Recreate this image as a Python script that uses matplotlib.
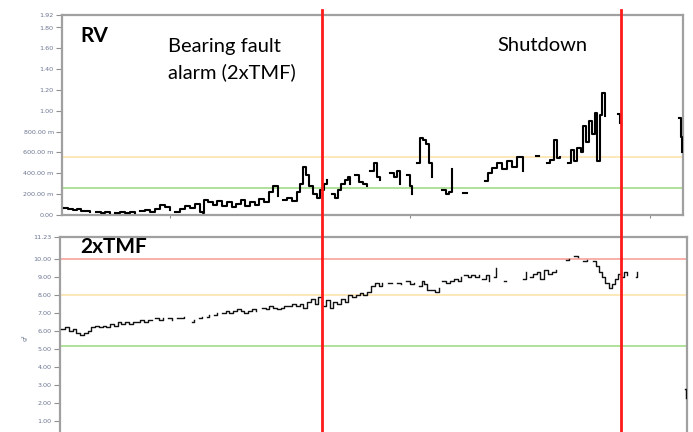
import numpy as np
import matplotlib
matplotlib.use("Agg")
import matplotlib.pyplot as plt
from matplotlib.lines import Line2D

nan = np.nan

# ---------------- data ----------------
rv_t = [0.3, 1, 1.7, 2.4, 3.1, 3.8, 4.5, nan, 5.5, 6.3, 7.0, 7.8, nan, 8.6, 9.4, 10.2, 11.0, 11.8, nan,
        12.6, 13.4, 14.2, 15.0, 15.8, 16.6, 17.4, nan, 18.2, 19.0, 19.8, 20.6, 21.4, 22.2, 22.7,
        22.8, 23.5, 24.3, 25.0, 25.8, 26.5, 27.3, 28.0, 28.8, 29.5, 30.3, 31.0, 31.8, 32.5, 33.3, 34.0, 34.8, nan,
        35.6, 36.3, 37.0, 37.8, 38.3, 38.8, 39.3, 39.8, 40.4, 41.0, 41.5,
        42.2, 42.7, nan, 43.5, 44.0, 44.5, 45.0, 45.5, 46.0, 46.4, nan, 47.2, 47.8, 48.4, 49.1, nan,
        49.6, 50.2, 50.7, 51.2, nan, 52.8, 53.4, 54.0, 54.4, nan, 55.6, 56.0, 56.4, nan,
        57.2, 57.6, 58.1, 58.6, 59.1, 59.6, nan, 61.2, 61.8, 62.3, 62.8, nan, 64.5, 65.2, nan,
        68.1, 68.6, 69.2, 70.0, 70.8, 71.6, 72.4, 73.2, 74.2, nan, 76.3, 76.8, nan,
        78.1, 78.6, 79.2, 79.7, 80.2, nan, 81.5, 82.0, 82.5, 83.0, 83.5, 83.9, 84.4, 84.9, 85.4, 85.8,
        86.2, 86.6, 87.0, 87.4, nan, 89.5, 89.8, nan, 99.4, 99.6, 99.8]
rv_v = [0.07, 0.06, 0.05, 0.06, 0.04, 0.04, 0.03, nan, 0.03, 0.02, 0.03, 0.02, nan, 0.02, 0.03, 0.02, 0.03, 0.02, nan,
        0.04, 0.05, 0.03, 0.06, 0.10, 0.08, 0.05, nan, 0.03, 0.06, 0.09, 0.07, 0.11, 0.03, 0.02,
        0.14, 0.12, 0.10, 0.13, 0.09, 0.12, 0.08, 0.11, 0.14, 0.09, 0.12, 0.10, 0.15, 0.12, 0.22, 0.28, 0.18, nan,
        0.14, 0.16, 0.13, 0.22, 0.30, 0.46, 0.38, 0.28, 0.20, 0.16, 0.24,
        0.30, 0.34, nan, 0.20, 0.16, 0.24, 0.30, 0.34, 0.36, 0.30, nan, 0.38, 0.32, 0.30, 0.28, nan,
        0.42, 0.50, 0.36, 0.34, nan, 0.40, 0.36, 0.42, 0.30, nan, 0.38, 0.28, 0.20, nan,
        0.50, 0.74, 0.72, 0.68, 0.50, 0.36, nan, 0.24, 0.20, 0.22, 0.44, nan, 0.21, 0.21, nan,
        0.33, 0.40, 0.45, 0.50, 0.44, 0.52, 0.46, 0.56, 0.42, nan, 0.57, 0.57, nan,
        0.50, 0.53, 0.72, 0.55, 0.56, nan, 0.50, 0.62, 0.52, 0.64, 0.60, 0.85, 0.70, 0.90, 0.78, 0.98,
        0.52, 0.96, 1.17, 0.95, nan, 0.97, 0.88, nan, 0.93, 0.75, 0.60]

tmf_t = [0.2, 0.8, 1.4, 2.0, 2.6, 3.2, 3.8, 4.4, 5.0, 5.6, 6.2, 6.8, 7.4, 8.0, 8.6, 9.2, 9.8, 10.4, 11.0, 11.6,
         12.2, 12.8, 13.4, 14.0, 14.6, nan, 15.2, 15.8, 16.4, nan, 17.2, 17.8, nan, 18.6, 19.2, 19.8, nan,
         21.0, 21.4, nan, 22.2, 22.6, nan, 23.4, 23.8, nan, 24.6, 25.0, nan,
         25.8, 26.4, 27.0, 27.6, 28.2, 28.8, 29.4, 30.0, 30.6, 31.2, nan,
         32.2, 32.8, 33.4, 34.0, 34.6, 35.2, 35.8, 36.4, 37.0, 37.6, 38.2, 38.8, 39.4, 40.0, 40.6, 41.2, 41.8,
         42.4, 43.0, 43.6, 44.2, 44.8, 45.4, 46.0, 46.6, 47.2, 47.8, 48.4, 49.0, 49.6, 50.2, 50.8, 51.4, nan,
         52.3, 52.9, nan, 53.8, 54.4, nan, 55.2, 55.8, 56.4, nan,
         57.2, 57.7, 58.1, 58.6, 59.2, 59.8, 60.4, nan, 61.0, 61.6, 62.2, 62.8, 63.4, 64.0, nan,
         64.4, 65.0, 65.6, 66.2, 66.8, nan, 67.3, 67.9, 68.4, nan, 69.2, 69.6, nan, 70.8, 71.2, nan,
         73.8, 74.3, nan, 74.9, 75.4, 76.0, 76.6, 77.2, 77.8, 78.4, 79.1, nan, 80.7, 81.2, nan,
         82.0, 82.6, nan, 83.4, 84.0, nan,
         85.0, 85.5, 86.0, 86.5, 87.0, 87.5, 88.0, 88.5, 89.0, 89.5, 90.0, 90.4, nan, 91.8, 92.0, nan, 99.7, 99.9]
tmf_v = [6.1, 6.2, 6.0, 6.1, 5.9, 5.8, 5.9, 6.0, 6.2, 6.3, 6.2, 6.3, 6.2, 6.4, 6.3, 6.5, 6.4, 6.5, 6.4, 6.5,
         6.5, 6.6, 6.5, 6.6, 6.6, nan, 6.7, 6.6, 6.7, nan, 6.7, 6.6, nan, 6.7, 6.7, 6.8, nan,
         6.5, 6.6, nan, 6.7, 6.8, nan, 6.8, 6.9, nan, 6.9, 7.0, nan,
         7.0, 7.1, 7.0, 7.1, 7.2, 7.1, 7.0, 7.1, 7.2, 7.1, nan,
         7.3, 7.2, 7.4, 7.3, 7.2, 7.3, 7.4, 7.4, 7.5, 7.4, 7.5, 7.3, 7.6, 7.8, 7.5, 7.9, 7.4,
         7.7, 7.3, 7.6, 7.5, 7.8, 7.6, 8.0, 7.9, 8.0, 8.1, 8.0, 8.2, 8.5, 8.7, 8.5, 8.7, nan,
         8.7, 8.7, nan, 8.7, 8.6, nan, 8.8, 8.6, 8.7, nan,
         8.5, 8.8, 8.6, 8.3, 8.3, 8.2, 8.4, nan, 8.8, 8.7, 8.8, 8.9, 8.8, 9.0, nan,
         9.1, 9.0, 9.1, 9.0, 9.1, nan, 8.9, 9.1, 8.8, nan, 9.0, 9.5, nan, 8.8, 8.8, nan,
         8.9, 9.3, nan, 9.0, 9.2, 9.3, 8.9, 9.4, 9.2, 9.3, 9.4, nan, 9.95, 10.0, nan,
         10.15, 10.1, nan, 9.9, 9.95, nan,
         9.9, 9.6, 9.3, 9.0, 8.7, 8.4, 8.6, 8.9, 9.2, 9.0, 9.3, 9.1, nan, 9.0, 9.3, nan, 2.8, 2.3]

rv_thresholds = [0.56, 0.26]            # alert, ok
tmf_thresholds = [10.0, 8.0, 5.15]      # danger, alert, ok
event_t = [41.9, 90.0]                  # bearing fault alarm, shutdown

rv_ticks = [0.0, 0.2, 0.4, 0.6, 0.8, 1.0, 1.2, 1.4, 1.6, 1.8, 1.92]
rv_ticklabels = ["0.00", "200.00 m", "400.00 m", "600.00 m", "800.00 m",
                 "1.00", "1.20", "1.40", "1.60", "1.80", "1.92"]
tmf_ticks = [1, 2, 3, 4, 5, 6, 7, 8, 9, 10, 11.23]
tmf_ticklabels = ["1.00", "2.00", "3.00", "4.00", "5.00", "6.00",
                  "7.00", "8.00", "9.00", "10.00", "11.23"]

assert len(rv_t) == len(rv_v), (len(rv_t), len(rv_v))
assert len(tmf_t) == len(tmf_v), (len(tmf_t), len(tmf_v))

# ---------------- figure ----------------
W, H = 693, 432
fig = plt.figure(figsize=(W / 100, H / 100), dpi=100)
fig.patch.set_facecolor("white")

def fx(px):
    return px / W

def fy(py):
    return 1 - py / H

ax1 = fig.add_axes([fx(62), fy(215), fx(683) - fx(62), fy(15) - fy(215)])
ax2 = fig.add_axes([fx(60), fy(439), fx(687) - fx(60), fy(237) - fy(439)])

tick_color = "#6b7590"
spine_color = "#a0a0a0"

for ax in (ax1, ax2):
    for s in ax.spines.values():
        s.set_color(spine_color)
        s.set_linewidth(1.6)
    ax.tick_params(axis="y", direction="out", length=4, width=0.8, color="#909090",
                   labelsize=4.6, labelcolor=tick_color, pad=2)
    ax.tick_params(axis="x", direction="out", length=2, width=0.8, color="#909090",
                   labelbottom=False)
    ax.set_xlim(0, 100)
    ax.set_xticks([17.4, 56.0, 94.7])

ax1.set_ylim(0, 1.92)
ax1.set_yticks(rv_ticks)
ax1.set_yticklabels(rv_ticklabels)
ax2.set_ylim(0, 11.23)
ax2.set_yticks(tmf_ticks)
ax2.set_yticklabels(tmf_ticklabels)

ax1.axhline(rv_thresholds[0], color="#fde6b4", lw=1.3, zorder=1)
ax1.axhline(rv_thresholds[1], color="#a9de90", lw=1.3, zorder=1)
ax2.axhline(tmf_thresholds[0], color="#f9aaa2", lw=1.3, zorder=1)
ax2.axhline(tmf_thresholds[1], color="#fde6b4", lw=1.3, zorder=1)
ax2.axhline(tmf_thresholds[2], color="#a9de90", lw=1.3, zorder=1)

ax1.plot(rv_t, rv_v, color="black", lw=1.5, drawstyle="steps-post", zorder=3)
ax2.plot(tmf_t, tmf_v, color="#111111", lw=1.0, drawstyle="steps-post", zorder=3)

ax2.set_ylabel("g²", fontsize=4.6, color=tick_color, labelpad=4)

# event lines spanning both panels
for t in event_t:
    xd = ax1.transData.transform((t, 0))[0]
    xf = fig.transFigure.inverted().transform((xd, 0))[0]
    fig.add_artist(Line2D([xf, xf], [0, fy(10)], color="#ff1a1a", lw=2.0, zorder=10))

fam = ["Lato", "DejaVu Sans"]
fig.text(fx(80), fy(26), "RV", fontsize=15, fontweight="bold", family=fam, va="top", ha="left")
fig.text(fx(80), fy(237), "2xTMF", fontsize=15, fontweight="bold", family=fam, va="top", ha="left")
fig.text(fx(168), fy(38), "Bearing fault\nalarm (2xTMF)", fontsize=14.5, family=fam,
         va="top", ha="left", linespacing=1.55)
fig.text(fx(497), fy(37), "Shutdown", fontsize=14.5, family=fam, va="top", ha="left")

fig.savefig("out.png", dpi=100, facecolor="white")
